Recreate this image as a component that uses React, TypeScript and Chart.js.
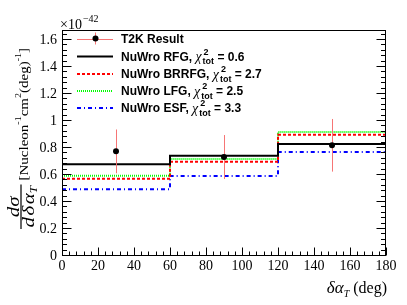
import React, { useEffect, useRef } from 'react';
import { Chart, registerables } from 'chart.js';
Chart.register(...registerables);

// ---- data ----
const binEdges = [0, 60, 120, 180];
const t2kX = [30, 90, 150];
const t2kY = [0.775, 0.733, 0.82];
const t2kErr = [0.162, 0.163, 0.195];
const rfg = [0.679, 0.743, 0.83];
const brrfg = [0.573, 0.699, 0.899];
const lfg = [0.595, 0.718, 0.918];
const esf = [0.494, 0.593, 0.77];
const modelNames = ['NuWro RFG', 'NuWro BRRFG', 'NuWro LFG', 'NuWro ESF'];
const chi2 = ['0.6', '2.7', '2.5', '3.3'];
const xTickValues = [0, 20, 40, 60, 80, 100, 120, 140, 160, 180];
const yTickValues = [0, 0.2, 0.4, 0.6, 0.8, 1, 1.2, 1.4, 1.6];
const yMax = 1.674;

const SERIF = 'Liberation Serif';
const SANS = 'Liberation Sans';
const SERIF_STACK = '"Liberation Serif", "Times New Roman", serif';

Chart.defaults.font.family = SERIF_STACK;

const modelStyles = [
  { color: '#000000', dash: [] as number[] },
  { color: '#ff0000', dash: [3, 2] },
  { color: '#00ff00', dash: [1, 1] },
  { color: '#0000ff', dash: [4, 3, 1, 3] },
];
const errColor = 'rgba(245,110,110,0.95)';

const stepData = (vals: number[]) =>
  binEdges.map((x, i) => ({ x, y: vals[Math.min(i, vals.length - 1)] }));

type Run = { text?: string; font?: string; dy?: number; sup?: string; sub?: string; subFont?: string; gap?: number };

function drawRuns(ctx: CanvasRenderingContext2D, runs: Run[], x: number, y: number, draw = true) {
  let cx = x;
  for (const r of runs) {
    if (r.sup !== undefined || r.sub !== undefined) {
      ctx.font = r.subFont || `bold 9px "${SANS}"`;
      const w1 = r.sup ? ctx.measureText(r.sup).width : 0;
      const w2 = r.sub ? ctx.measureText(r.sub).width : 0;
      if (draw) {
        if (r.sup) ctx.fillText(r.sup, cx + 1, y - 5);
        if (r.sub) ctx.fillText(r.sub, cx, y + 4.5);
      }
      cx += Math.max(w1, w2);
    } else {
      ctx.font = r.font || `bold 12px "${SANS}"`;
      if (draw) ctx.fillText(r.text || '', cx, y + (r.dy || 0));
      cx += ctx.measureText(r.text || '').width + (r.gap || 0);
    }
  }
  return cx - x;
}

function drawScaled(ctx: CanvasRenderingContext2D, runs: Run[], x: number, y: number, sy: number) {
  ctx.save();
  ctx.translate(x, y);
  ctx.scale(1, sy);
  const w = drawRuns(ctx, runs, 0, 0);
  ctx.restore();
  return w;
}

const rootPlugin = {
  id: 'rootStyle',
  beforeDatasetDraw(chart: any, args: any) {
    if (args.index !== 4) return;
    const ctx = chart.ctx;
    const xs = chart.scales.x;
    const ys = chart.scales.y;
    ctx.save();
    ctx.strokeStyle = errColor;
    ctx.lineWidth = 1;
    t2kX.forEach((xv, i) => {
      const px = Math.round(xs.getPixelForValue(xv)) + 0.5;
      ctx.beginPath();
      ctx.moveTo(px, ys.getPixelForValue(t2kY[i] + t2kErr[i]));
      ctx.lineTo(px, ys.getPixelForValue(t2kY[i] - t2kErr[i]));
      ctx.stroke();
    });
    ctx.restore();
  },
  afterDraw(chart: any) {
    const ctx: CanvasRenderingContext2D = chart.ctx;
    const { left, right, top, bottom } = chart.chartArea;
    const xs = chart.scales.x;
    const ys = chart.scales.y;
    ctx.save();
    ctx.strokeStyle = '#000';
    ctx.lineWidth = 1;
    // frame
    ctx.strokeRect(Math.round(left) + 0.5, Math.round(top) + 0.5, Math.round(right - left) - 1, Math.round(bottom - top) - 1);
    // x ticks
    ctx.beginPath();
    for (let v = 0; v <= 180.001; v += 4) {
      const major = Math.abs(v / 20 - Math.round(v / 20)) < 1e-6;
      const px = Math.round(xs.getPixelForValue(v)) + 0.5;
      const b = Math.round(bottom) - 0.5;
      ctx.moveTo(px, b);
      ctx.lineTo(px, b - (major ? 8 : 4));
    }
    // y ticks left & right
    for (let v = 0; v <= yMax + 1e-6; v += 0.04) {
      const major = Math.abs(v / 0.2 - Math.round(v / 0.2)) < 1e-6;
      const py = Math.round(ys.getPixelForValue(v)) - 0.5;
      const l = Math.round(left) + 0.5;
      const r = Math.round(right) - 0.5;
      ctx.moveTo(l, py);
      ctx.lineTo(l + (major ? 9 : 4.5), py);
      ctx.moveTo(r, py);
      ctx.lineTo(r - (major ? 9 : 4.5), py);
    }
    ctx.stroke();

    ctx.fillStyle = '#000';
    ctx.textBaseline = 'alphabetic';
    ctx.textAlign = 'left';
    // x 10^-42
    ctx.font = `14px "${SERIF}"`;
    ctx.fillText('\u00d710', 60, 29);
    const w10 = ctx.measureText('\u00d710').width;
    ctx.font = `10px "${SERIF}"`;
    ctx.fillText('\u221242', 60 + w10 + 1, 22);

    // x-axis title
    const xRuns: Run[] = [
      { text: '\u03b4\u03b1', font: `italic 17px "${SERIF}"` },
      { text: 'T', font: `italic 10px "${SERIF}"`, dy: 4 },
      { text: ' (deg)', font: `16px "${SERIF}"` },
    ];
    const xw = drawRuns(ctx, xRuns, 0, 0, false);
    drawRuns(ctx, xRuns, right + 1 - xw, 293);

    // y-axis title (rotated)
    ctx.save();
    ctx.translate(21, 229);
    ctx.rotate(-Math.PI / 2);
    const syF = 0.8;
    const syB = 0.88;
    const fracFont = `italic 21px "${SERIF}"`;
    const numRuns: Run[] = [{ text: 'd\u03c3', font: fracFont }];
    const denRuns: Run[] = [
      { text: 'd', font: fracFont, gap: 1.5 },
      { text: '\u03b4', font: fracFont, gap: 1.5 },
      { text: '\u03b1', font: fracFont },
      { text: 'T', font: `italic 13px "${SERIF}"`, dy: 4 },
    ];
    const numW = drawRuns(ctx, numRuns, 0, 0, false);
    const denW = drawRuns(ctx, denRuns, 0, 0, false);
    const fw = Math.max(numW, denW) + 3;
    drawScaled(ctx, numRuns, (fw - numW) / 2, -2.5, syF);
    drawScaled(ctx, denRuns, (fw - denW) / 2, 13, syF);
    ctx.fillRect(0, -0.6, fw, 1.2);
    const br = `15px "${SERIF}"`;
    const brSup = `10px "${SERIF}"`;
    const brRuns: Run[] = [
      { text: '[Nucleon', font: br },
      { text: '-1', font: brSup, dy: -7 },
      { text: 'cm', font: br },
      { text: '2', font: brSup, dy: -7 },
      { text: '(deg)', font: br },
      { text: '-1', font: brSup, dy: -7 },
      { text: ']', font: br },
    ];
    drawScaled(ctx, brRuns, fw + 4, 6.5, syB);
    ctx.restore();

    // legend
    const symL = 77;
    const symR = 113;
    const textX = 121;
    const rows = [38.5, 56.5, 74, 91, 108];
    ctx.textBaseline = 'middle';
    ctx.lineWidth = 1;
    ctx.strokeStyle = errColor;
    ctx.beginPath();
    ctx.moveTo(symL, Math.round(rows[0]) + 0.5);
    ctx.lineTo(symR, Math.round(rows[0]) + 0.5);
    ctx.moveTo(95.5, rows[0] - 6);
    ctx.lineTo(95.5, rows[0] + 6);
    ctx.stroke();
    ctx.beginPath();
    ctx.arc(95.5, rows[0], 3, 0, Math.PI * 2);
    ctx.fillStyle = '#000';
    ctx.fill();
    ctx.font = `bold 12px "${SANS}"`;
    ctx.fillText('T2K Result', textX, rows[0] + 1);
    modelNames.forEach((name, i) => {
      const y = rows[i + 1];
      const st = modelStyles[i];
      ctx.strokeStyle = st.color;
      ctx.lineWidth = 2;
      ctx.setLineDash(st.dash);
      ctx.beginPath();
      ctx.moveTo(symL, y);
      ctx.lineTo(symR, y);
      ctx.stroke();
      ctx.setLineDash([]);
      ctx.fillStyle = '#000';
      drawRuns(ctx, [
        { text: name + ', ' },
        { text: '\u03c7', font: `italic 14px "${SERIF}"`, gap: 1 },
        { sup: '2', sub: 'tot' },
        { text: ' = ' + chi2[i] },
      ], textX, y + 1);
    });
    ctx.restore();
  },
};

export default function App() {
  const ref = useRef<HTMLCanvasElement>(null);
  useEffect(() => {
    if (!ref.current) return;
    const models = [rfg, brrfg, lfg, esf];
    const chart = new Chart(ref.current, {
      type: 'line',
      data: {
        datasets: [
          ...models.map((vals, i) => ({
            label: modelNames[i],
            data: stepData(vals),
            stepped: 'before' as const,
            borderColor: modelStyles[i].color,
            borderDash: modelStyles[i].dash,
            borderWidth: 2,
            pointRadius: 0,
            fill: false,
            order: 1,
          })),
          {
            label: 'T2K Result',
            data: t2kX.map((x, i) => ({ x, y: t2kY[i] })),
            showLine: false,
            pointRadius: 3,
            pointBackgroundColor: '#000',
            pointBorderWidth: 0,
            borderColor: '#000',
            order: 0,
          },
        ],
      },
      options: {
        responsive: false,
        animation: false,
        layout: { padding: { top: 30, right: 21, left: 0, bottom: 0 } },
        plugins: { legend: { display: false }, tooltip: { enabled: false } },
        scales: {
          x: {
            type: 'linear',
            min: 0,
            max: 180,
            afterBuildTicks: (s: any) => { s.ticks = xTickValues.map((v) => ({ value: v })); },
            ticks: { font: { family: SERIF_STACK, size: 14 }, color: '#000', padding: 2, maxRotation: 0, autoSkip: false, callback: (v: any) => String(v) },
            grid: { display: false, drawTicks: false },
            border: { display: false },
            afterFit: (s: any) => { s.height = 49; },
          },
          y: {
            type: 'linear',
            min: 0,
            max: yMax,
            afterBuildTicks: (s: any) => { s.ticks = yTickValues.map((v) => ({ value: v })); },
            ticks: { font: { family: SERIF_STACK, size: 14 }, color: '#000', padding: 5, autoSkip: false, callback: (v: any) => String(Number(Number(v).toFixed(1))) },
            grid: { display: false, drawTicks: false },
            border: { display: false },
            afterFit: (s: any) => { s.width = 62; },
          },
        },
      },
      plugins: [rootPlugin],
    } as any);
    return () => chart.destroy();
  }, []);
  return (
    <div style={{ position: 'absolute', left: 0, top: 0, width: 407, height: 305, background: '#fff' }}>
      <canvas ref={ref} width={407} height={305} style={{ display: 'block' }} />
    </div>
  );
}
